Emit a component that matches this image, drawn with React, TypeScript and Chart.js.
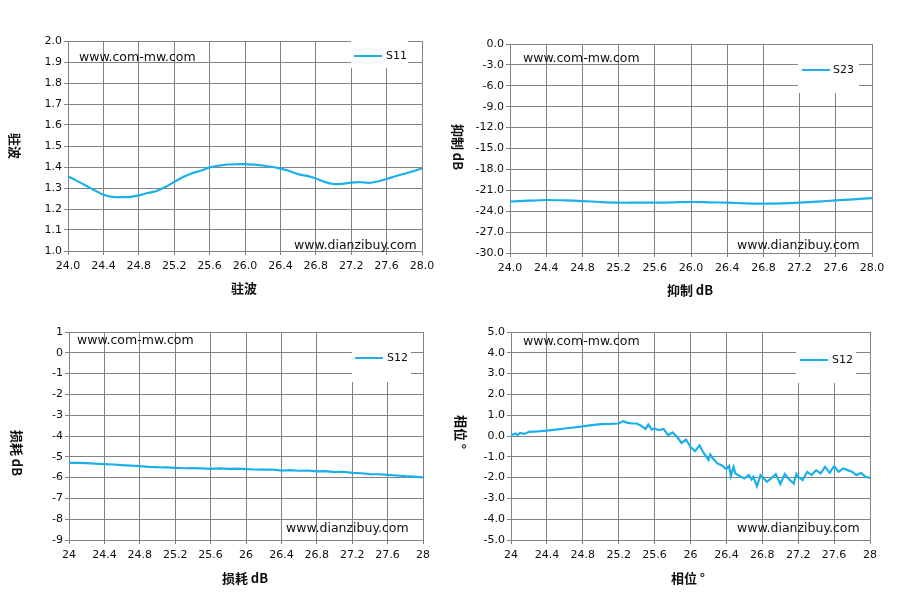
import React, { useEffect, useRef } from "react";
import { Chart, registerables } from "chart.js";

Chart.register(...registerables);

// ---------- data ----------
const freq01 = [
  24.0, 24.1, 24.2, 24.3, 24.4, 24.5, 24.6, 24.7, 24.8, 24.9,
  25.0, 25.1, 25.2, 25.3, 25.4, 25.5, 25.6, 25.7, 25.8, 25.9,
  26.0, 26.1, 26.2, 26.3, 26.4, 26.5, 26.6, 26.7, 26.8, 26.9,
  27.0, 27.1, 27.2, 27.3, 27.4, 27.5, 27.6, 27.7, 27.8, 27.9, 28.0,
];
const s11Vswr = [
  1.355, 1.334, 1.312, 1.289, 1.268, 1.258, 1.257, 1.258, 1.265, 1.276,
  1.286, 1.305, 1.329, 1.352, 1.37, 1.382, 1.398, 1.406, 1.412, 1.413,
  1.414, 1.411, 1.407, 1.401, 1.392, 1.381, 1.366, 1.358, 1.345, 1.329,
  1.319, 1.32, 1.326, 1.328, 1.324, 1.331, 1.343, 1.356, 1.368, 1.38, 1.394,
];

const freq02 = [
  24.0, 24.2, 24.4, 24.6, 24.8, 25.0, 25.2, 25.4, 25.6, 25.8,
  26.0, 26.2, 26.4, 26.6, 26.8, 27.0, 27.2, 27.4, 27.6, 27.8, 28.0,
];
const s23Rejection = [
  -22.63, -22.49, -22.39, -22.44, -22.54, -22.68, -22.78, -22.78, -22.78, -22.73,
  -22.68, -22.73, -22.78, -22.87, -22.92, -22.88, -22.78, -22.63, -22.44, -22.3, -22.11,
];

const s12Loss = [
  -5.29, -5.29, -5.3, -5.33, -5.35, -5.37, -5.4, -5.42, -5.45, -5.48,
  -5.5, -5.51, -5.53, -5.55, -5.54, -5.56, -5.58, -5.56, -5.58, -5.57,
  -5.59, -5.61, -5.62, -5.61, -5.66, -5.64, -5.67, -5.66, -5.7, -5.69,
  -5.74, -5.72, -5.77, -5.79, -5.83, -5.84, -5.87, -5.9, -5.93, -5.95, -5.99,
];

const phaseFreq = [
  24.0, 24.05, 24.07, 24.1, 24.15, 24.2, 24.3, 24.4, 24.5, 24.6,
  24.7, 24.8, 24.9, 25.0, 25.1, 25.2, 25.25, 25.3, 25.35, 25.4,
  25.45, 25.5, 25.53, 25.57, 25.6, 25.65, 25.7, 25.75, 25.8, 25.85,
  25.9, 25.95, 26.0, 26.05, 26.1, 26.15, 26.2, 26.22, 26.25, 26.3,
  26.35, 26.38, 26.4, 26.43, 26.45, 26.48, 26.5, 26.55, 26.6, 26.65,
  26.68, 26.7, 26.74, 26.78, 26.8, 26.85, 26.9, 26.95, 27.0, 27.05,
  27.1, 27.15, 27.18, 27.2, 27.25, 27.3, 27.35, 27.4, 27.45, 27.5,
  27.55, 27.6, 27.65, 27.7, 27.75, 27.8, 27.85, 27.9, 27.95, 28.0,
];
const s12Phase = [
  0.04, 0.12, 0.04, 0.15, 0.1, 0.2, 0.22, 0.26, 0.31, 0.36,
  0.41, 0.46, 0.52, 0.57, 0.58, 0.6, 0.71, 0.63, 0.6, 0.6,
  0.49, 0.34, 0.55, 0.31, 0.36, 0.28, 0.34, 0.04, 0.17, -0.04,
  -0.33, -0.17, -0.52, -0.73, -0.46, -0.84, -1.16, -0.89, -1.08, -1.32,
  -1.42, -1.53, -1.59, -1.44, -1.93, -1.48, -1.8, -1.93, -2.04, -1.88,
  -2.09, -1.96, -2.41, -1.88, -1.96, -2.2, -2.04, -1.83, -2.31, -1.83,
  -2.09, -2.28, -1.83, -1.96, -2.12, -1.72, -1.88, -1.64, -1.8, -1.48,
  -1.77, -1.45, -1.72, -1.56, -1.64, -1.72, -1.88, -1.77, -1.96, -2.02,
];

// ---------- ticks ----------
const xTickValues = [24.0, 24.4, 24.8, 25.2, 25.6, 26.0, 26.4, 26.8, 27.2, 27.6, 28.0];
const xLabelsTop = ["24.0", "24.4", "24.8", "25.2", "25.6", "26.0", "26.4", "26.8", "27.2", "27.6", "28.0"];
const xLabelsBottom = ["24", "24.4", "24.8", "25.2", "25.6", "26", "26.4", "26.8", "27.2", "27.6", "28"];

const yTicksVswr = [1.0, 1.1, 1.2, 1.3, 1.4, 1.5, 1.6, 1.7, 1.8, 1.9, 2.0];
const yLabelsVswr = ["1.0", "1.1", "1.2", "1.3", "1.4", "1.5", "1.6", "1.7", "1.8", "1.9", "2.0"];
const yTicksRej = [-30, -27, -24, -21, -18, -15, -12, -9, -6, -3, 0];
const yLabelsRej = ["-30.0", "-27.0", "-24.0", "-21.0", "-18.0", "-15.0", "-12.0", "-9.0", "-6.0", "-3.0", "0.0"];
const yTicksLoss = [-9, -8, -7, -6, -5, -4, -3, -2, -1, 0, 1];
const yLabelsLoss = ["-9", "-8", "-7", "-6", "-5", "-4", "-3", "-2", "-1", "0", "1"];
const yTicksPhase = [-5, -4, -3, -2, -1, 0, 1, 2, 3, 4, 5];
const yLabelsPhase = ["-5.0", "-4.0", "-3.0", "-2.0", "-1.0", "0.0", "1.0", "2.0", "3.0", "4.0", "5.0"];

const titleVswr = "驻波";
const titleRej = "抑制 dB";
const titleLoss = "损耗 dB";
const titlePhase = "相位 °";
const watermarkA = "www.com-mw.com";
const watermarkB = "www.dianzibuy.com";

const LINE_COLOR = "#1bb0ec";
const GRID_COLOR = "#828282";
const TEXT_COLOR = "#0d0d0d";
const TICK_FONT = "DejaVu Sans";
const CJK_FONT = '"Noto Sans CJK SC", "DejaVu Sans", sans-serif';

type Panel = {
  left: number;
  top: number;
  w: number;
  h: number;
  plot: { l: number; r: number; t: number; b: number };
  xs: number[];
  ys: number[];
  label: string;
  smooth: number;
  xLabels: string[];
  yTicks: number[];
  yLabels: string[];
  title: string;
  wmA: [number, number];
  wmB: [number, number];
  legBox: [number, number, number, number];
  legLine: [number, number, number];
  legText: [number, number];
  yTitle: [number, number];
  xTitle: [number, number];
};

const panels: Panel[] = [
  {
    left: 0, top: 0, w: 448, h: 302,
    plot: { l: 68, r: 422, t: 41, b: 251 },
    xs: freq01, ys: s11Vswr, label: "S11", smooth: 0.3,
    xLabels: xLabelsTop, yTicks: yTicksVswr, yLabels: yLabelsVswr, title: titleVswr,
    wmA: [79, 58], wmB: [294, 246],
    legBox: [351, 41, 57, 27], legLine: [354, 382, 56], legText: [386, 56],
    yTitle: [15, 146], xTitle: [244, 288],
  },
  {
    left: 448, top: 0, w: 449, h: 302,
    plot: { l: 62, r: 424, t: 44, b: 253 },
    xs: freq02, ys: s23Rejection, label: "S23", smooth: 0.3,
    xLabels: xLabelsTop, yTicks: yTicksRej, yLabels: yLabelsRej, title: titleRej,
    wmA: [75, 59], wmB: [289, 246],
    legBox: [350, 45, 61, 48], legLine: [354, 382, 70], legText: [385, 70],
    yTitle: [10, 147], xTitle: [242, 290],
  },
  {
    left: 0, top: 302, w: 448, h: 303,
    plot: { l: 69, r: 423, t: 30, b: 238 },
    xs: freq01, ys: s12Loss, label: "S12", smooth: 0,
    xLabels: xLabelsBottom, yTicks: yTicksLoss, yLabels: yLabelsLoss, title: titleLoss,
    wmA: [77, 39], wmB: [286, 227],
    legBox: [352, 31, 59, 49], legLine: [355, 383, 56], legText: [387, 56],
    yTitle: [17, 151], xTitle: [245, 276],
  },
  {
    left: 448, top: 302, w: 449, h: 303,
    plot: { l: 63, r: 422, t: 30, b: 238 },
    xs: phaseFreq, ys: s12Phase, label: "S12", smooth: 0,
    xLabels: xLabelsBottom, yTicks: yTicksPhase, yLabels: yLabelsPhase, title: titlePhase,
    wmA: [75, 40], wmB: [289, 227],
    legBox: [348, 31, 60, 50], legLine: [352, 380, 58], legText: [384, 58],
    yTitle: [13, 130], xTitle: [240, 276],
  },
];

function makeDeco(p: Panel) {
  return {
    id: "deco-" + p.left + "-" + p.top,
    afterDraw(chart: any) {
      const ctx: CanvasRenderingContext2D = chart.ctx;
      ctx.save();
      // watermarks
      ctx.fillStyle = TEXT_COLOR;
      ctx.font = '12.5px "DejaVu Sans"';
      ctx.textAlign = "left";
      ctx.textBaseline = "middle";
      ctx.fillText(watermarkA, p.wmA[0], p.wmA[1]);
      ctx.fillText(watermarkB, p.wmB[0], p.wmB[1]);
      // legend
      ctx.fillStyle = "#ffffff";
      ctx.fillRect(p.legBox[0], p.legBox[1], p.legBox[2], p.legBox[3]);
      ctx.strokeStyle = LINE_COLOR;
      ctx.lineWidth = 2;
      ctx.beginPath();
      ctx.moveTo(p.legLine[0], p.legLine[2]);
      ctx.lineTo(p.legLine[1], p.legLine[2]);
      ctx.stroke();
      ctx.fillStyle = TEXT_COLOR;
      ctx.font = '11px "DejaVu Sans"';
      ctx.fillText(chart.data.datasets[0].label, p.legText[0], p.legText[1]);
      // axis titles
      ctx.font = "bold 13px " + CJK_FONT;
      ctx.textAlign = "center";
      ctx.fillText(p.title, p.xTitle[0], p.xTitle[1]);
      ctx.translate(p.yTitle[0], p.yTitle[1]);
      ctx.rotate(Math.PI / 2);
      ctx.fillText(p.title, 0, 0);
      ctx.restore();
    },
  };
}

function ChartPanel({ p }: { p: Panel }) {
  const ref = useRef<HTMLCanvasElement | null>(null);
  useEffect(() => {
    if (!ref.current) return;
    const chart = new Chart(ref.current, {
      type: "line",
      data: {
        datasets: [
          {
            label: p.label,
            data: p.xs.map((x, i) => ({ x, y: p.ys[i] })),
            borderColor: LINE_COLOR,
            borderWidth: 2.2,
            pointRadius: 0,
            tension: p.smooth,
            fill: false,
          },
        ],
      },
      options: {
        animation: false,
        responsive: false,
        devicePixelRatio: 1,
        layout: { padding: { left: 0, top: p.plot.t, right: p.w - p.plot.r, bottom: 0 } },
        plugins: { legend: { display: false }, tooltip: { enabled: false } },
        scales: {
          x: {
            type: "linear",
            min: 24,
            max: 28,
            afterBuildTicks: (scale: any) => {
              scale.ticks = xTickValues.map((v) => ({ value: v }));
            },
            afterFit: (scale: any) => {
              scale.height = p.h - p.plot.b;
            },
            ticks: {
              autoSkip: false,
              maxRotation: 0,
              padding: 5,
              color: TEXT_COLOR,
              font: { family: TICK_FONT, size: 11 },
              callback: (_v: any, i: number) => p.xLabels[i],
            },
            grid: { color: GRID_COLOR, lineWidth: 1, tickLength: 4, drawTicks: true },
            border: { display: true, color: GRID_COLOR, width: 1 },
          },
          y: {
            type: "linear",
            min: p.yTicks[0],
            max: p.yTicks[p.yTicks.length - 1],
            afterBuildTicks: (scale: any) => {
              scale.ticks = p.yTicks.map((v) => ({ value: v }));
            },
            afterFit: (scale: any) => {
              scale.width = p.plot.l;
            },
            ticks: {
              autoSkip: false,
              padding: 2,
              color: TEXT_COLOR,
              font: { family: TICK_FONT, size: 11 },
              callback: (_v: any, i: number) => p.yLabels[i],
            },
            grid: { color: GRID_COLOR, lineWidth: 1, tickLength: 4, drawTicks: true },
            border: { display: true, color: GRID_COLOR, width: 1 },
          },
        },
      },
      plugins: [makeDeco(p)],
    } as any);
    return () => chart.destroy();
  }, [p]);
  return (
    <canvas
      ref={ref}
      width={p.w}
      height={p.h}
      style={{ position: "absolute", left: p.left, top: p.top, width: p.w, height: p.h }}
    />
  );
}

export default function App() {
  return (
    <div
      style={{
        position: "fixed",
        left: 0,
        top: 0,
        width: 897,
        height: 605,
        background: "#ffffff",
        overflow: "hidden",
      }}
    >
      {panels.map((p, i) => (
        <ChartPanel key={i} p={p} />
      ))}
    </div>
  );
}
